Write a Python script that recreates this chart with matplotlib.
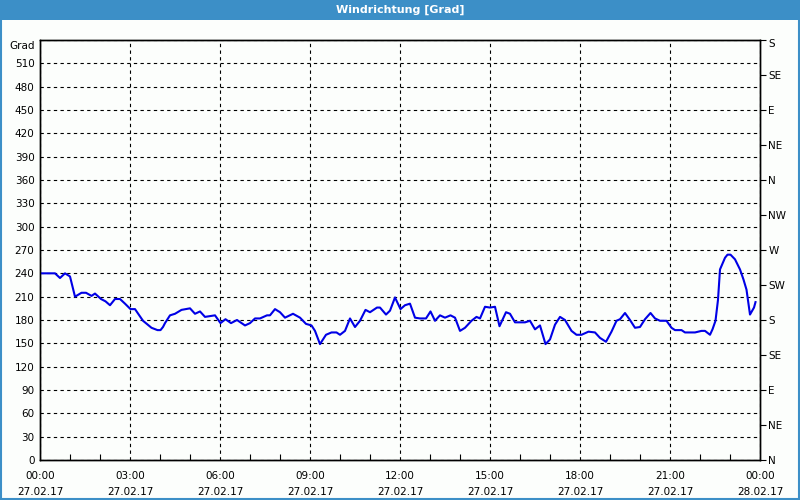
import matplotlib
matplotlib.use("Agg")
import matplotlib.pyplot as plt
import matplotlib.dates as mdates
import matplotlib.transforms as mtransforms
from matplotlib.patches import Rectangle
import pandas as pd

title = "Windrichtung [Grad]"
date = "2017-02-27"

times = ["00:00", "00:30", "00:40", "00:50", "01:00", "01:10", "01:23", "01:32", "01:43", "01:50",
         "02:02", "02:11", "02:20", "02:30", "02:40", "02:50", "03:01", "03:10", "03:26", "03:43",
         "03:55", "04:01", "04:06", "04:10", "04:20", "04:30", "04:43", "05:00", "05:10", "05:20",
         "05:30", "05:40", "05:50", "06:01", "06:11", "06:22", "06:34", "06:50", "07:00", "07:10",
         "07:20", "07:34", "07:40", "07:50", "08:00", "08:10", "08:26", "08:40", "08:52", "09:03",
         "09:10", "09:20", "09:32", "09:43", "09:53", "10:00", "10:10", "10:20", "10:30", "10:40",
         "10:51", "11:00", "11:14", "11:20", "11:32", "11:40", "11:50", "12:01", "12:10", "12:20",
         "12:30", "12:40", "12:52", "13:01", "13:10", "13:20", "13:30", "13:41", "13:50", "14:00",
         "14:10", "14:23", "14:33", "14:40", "14:50", "15:00", "15:10", "15:19", "15:32", "15:40",
         "15:50", "16:10", "16:20", "16:30", "16:40", "16:51", "17:00", "17:10", "17:20", "17:30",
         "17:43", "17:53", "18:03", "18:17", "18:30", "18:40", "18:52", "19:03", "19:13", "19:20",
         "19:30", "19:40", "19:50", "20:00", "20:10", "20:21", "20:30", "20:40", "20:53", "21:03",
         "21:10", "21:23", "21:30", "21:50", "22:03", "22:10", "22:20", "22:25", "22:31", "22:36",
         "22:40", "22:50", "22:55", "23:01", "23:10", "23:20", "23:27", "23:33", "23:40", "23:48",
         "23:51"]
values = [240, 240, 234, 240, 236, 210, 215, 215, 211, 214,
          207, 204, 199, 207, 207, 201, 194, 194, 179, 170,
          167, 167, 171, 176, 186, 188, 193, 195, 188, 191,
          184, 185, 186, 176, 181, 176, 180, 173, 176, 182,
          182, 186, 186, 194, 190, 183, 188, 183, 175, 173,
          166, 149, 161, 164, 164, 161, 166, 182, 171, 179,
          193, 190, 196, 196, 187, 192, 209, 194, 199, 201,
          183, 182, 182, 191, 179, 186, 183, 186, 183, 166,
          170, 179, 184, 182, 197, 196, 197, 172, 190, 188,
          177, 177, 179, 168, 173, 149, 155, 174, 184, 180,
          166, 161, 161, 165, 164, 157, 152, 165, 179, 181,
          189, 180, 170, 171, 181, 189, 182, 179, 179, 170,
          167, 167, 164, 164, 166, 166, 161, 168, 179, 206,
          245, 260, 264, 264, 258, 245, 232, 219, 187, 196,
          203]

left_ticks = list(range(0, 541, 30))
left_labels = [str(v) for v in left_ticks[:-1]] + ["Grad"]
right_ticks = list(range(0, 541, 45))
right_labels = ["N", "NE", "E", "SE", "S", "SW", "W", "NW", "N", "NE", "E", "SE", "S"]

x = pd.to_datetime([f"{date} {t}" for t in times])
x0 = pd.Timestamp(f"{date} 00:00")
x1 = x0 + pd.Timedelta(days=1)

blue = "#3c8fc7"
bg = "#fcfefc"
fs = 7.5

fig = plt.figure(figsize=(8, 5), dpi=100, facecolor=bg)
ax = fig.add_axes([40/800, 40/500, 720/800, 420/500])
ax.set_facecolor(bg)

ax.plot(x, values, color="#0000e6", lw=1.5, zorder=3)

ax.set_xlim(x0, x1)
ax.set_ylim(0, 540)
ax.set_yticks(left_ticks)
ax.set_yticklabels(left_labels)
ax.xaxis.set_major_locator(mdates.HourLocator(byhour=range(0, 24, 3)))
ax.xaxis.set_minor_locator(mdates.HourLocator())
ax.xaxis.set_major_formatter(mdates.DateFormatter("%H:%M\n%d.%m.%y"))

ax.grid(True, which="major", color="black", linestyle=(0, (3, 3)), linewidth=0.8)
for s in ax.spines.values():
    s.set_linewidth(1.0)
    s.set_color("black")

ax.tick_params(axis="x", which="major", direction="in", length=0, pad=8, labelsize=fs)
ax.tick_params(axis="x", which="minor", direction="in", length=4, width=0.8)
ax.tick_params(axis="y", which="major", length=0, pad=4, labelsize=fs)
for lbl in ax.get_xticklabels():
    lbl.set_linespacing(1.75)

ax2 = ax.twinx()
ax2.set_ylim(0, 540)
ax2.set_yticks(right_ticks)
ax2.set_yticklabels(right_labels)
ax2.tick_params(axis="y", direction="out", length=4, width=0.8, pad=2, labelsize=fs)
for s in ax2.spines.values():
    s.set_linewidth(1.0)

# nudge the top labels down slightly, as in the reference
down = mtransforms.ScaledTranslation(0, -5/100, fig.dpi_scale_trans)
ax.get_yticklabels()[-1].set_transform(ax.get_yticklabels()[-1].get_transform() + down)
down2 = mtransforms.ScaledTranslation(0, -3/100, fig.dpi_scale_trans)
ax2.get_yticklabels()[-1].set_transform(ax2.get_yticklabels()[-1].get_transform() + down2)

# title bar and frame
fig.patches.append(Rectangle((0, 480/500), 1, 20/500, transform=fig.transFigure,
                             facecolor=blue, edgecolor="none", zorder=0))
fig.patches.append(Rectangle((0.001, 0.002), 0.998, 0.996, transform=fig.transFigure,
                             facecolor="none", edgecolor=blue, lw=1.5, zorder=5))
fig.text(0.5, 1 - 10/500, title, color="white", fontsize=8, fontweight="bold",
         ha="center", va="center")

fig.savefig("out.png", dpi=100, facecolor=bg)
